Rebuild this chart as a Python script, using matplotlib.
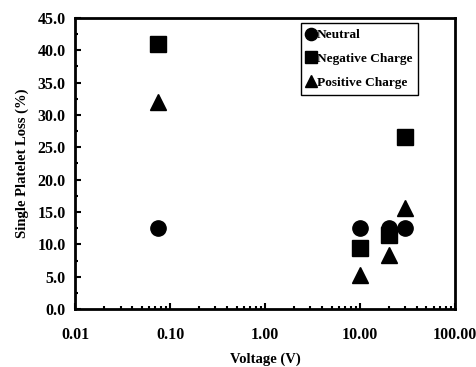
import numpy as np
import matplotlib.pyplot as plt
from matplotlib.ticker import FixedLocator, FormatStrFormatter, LogLocator, NullFormatter

plt.rcParams['font.family'] = 'Liberation Serif'
plt.rcParams['font.weight'] = 'bold'

#-------------------------------------------------------
voltage = [0.075, 10, 20, 30]
neutral = [12.6, 12.6, 12.6, 12.6]
negative = [41.0, 9.4, 11.5, 26.6]
positive = [32.0, 5.3, 8.3, 15.6]
labels = ['Neutral', 'Negative Charge', 'Positive Charge']
#-------------------------------------------------------

fig = plt.figure(figsize=(4.76, 3.67), dpi=100)
ax = fig.add_axes([0.158, 0.158, 0.798, 0.793])

ax.plot(voltage, neutral, 'o', color='black', markersize=11, label=labels[0])
ax.plot(voltage, negative, 's', color='black', markersize=11, label=labels[1])
ax.plot(voltage, positive, '^', color='black', markersize=11, label=labels[2])

ax.set_xscale('log')
ax.set_xlim(0.01, 100)
ax.set_ylim(0, 45)

ax.xaxis.set_major_locator(FixedLocator([0.01, 0.1, 1, 10, 100]))
ax.xaxis.set_major_formatter(FormatStrFormatter('%.2f'))
ax.xaxis.set_minor_locator(LogLocator(base=10, subs=np.arange(2, 10)))
ax.xaxis.set_minor_formatter(NullFormatter())
ax.yaxis.set_major_locator(FixedLocator(np.arange(0, 46, 5)))
ax.yaxis.set_major_formatter(FormatStrFormatter('%.1f'))
ax.yaxis.set_minor_locator(FixedLocator(np.arange(2.5, 45, 5)))

ax.tick_params(which='major', direction='in', length=4, width=1.5, labelsize=11.5, pad=7)
ax.tick_params(which='minor', direction='in', length=2.5, width=1.5)
ax.tick_params(axis='x', pad=13)
for s in ax.spines.values():
    s.set_linewidth(2)

ax.set_xlabel('Voltage (V)', fontsize=10.5, fontweight='bold', labelpad=7)
ax.set_ylabel('Single Platelet Loss (%)', fontsize=10.5, fontweight='bold', labelpad=6)

leg = ax.legend(loc='upper right', bbox_to_anchor=(0.903, 0.983), fontsize=9.6, markerscale=0.8,
                handlelength=0.6, handletextpad=0.1, labelspacing=0.85, borderpad=0.45,
                borderaxespad=0, fancybox=False, edgecolor='black', framealpha=1)
leg.get_frame().set_linewidth(1)

fig.savefig('out.png', dpi=100)
